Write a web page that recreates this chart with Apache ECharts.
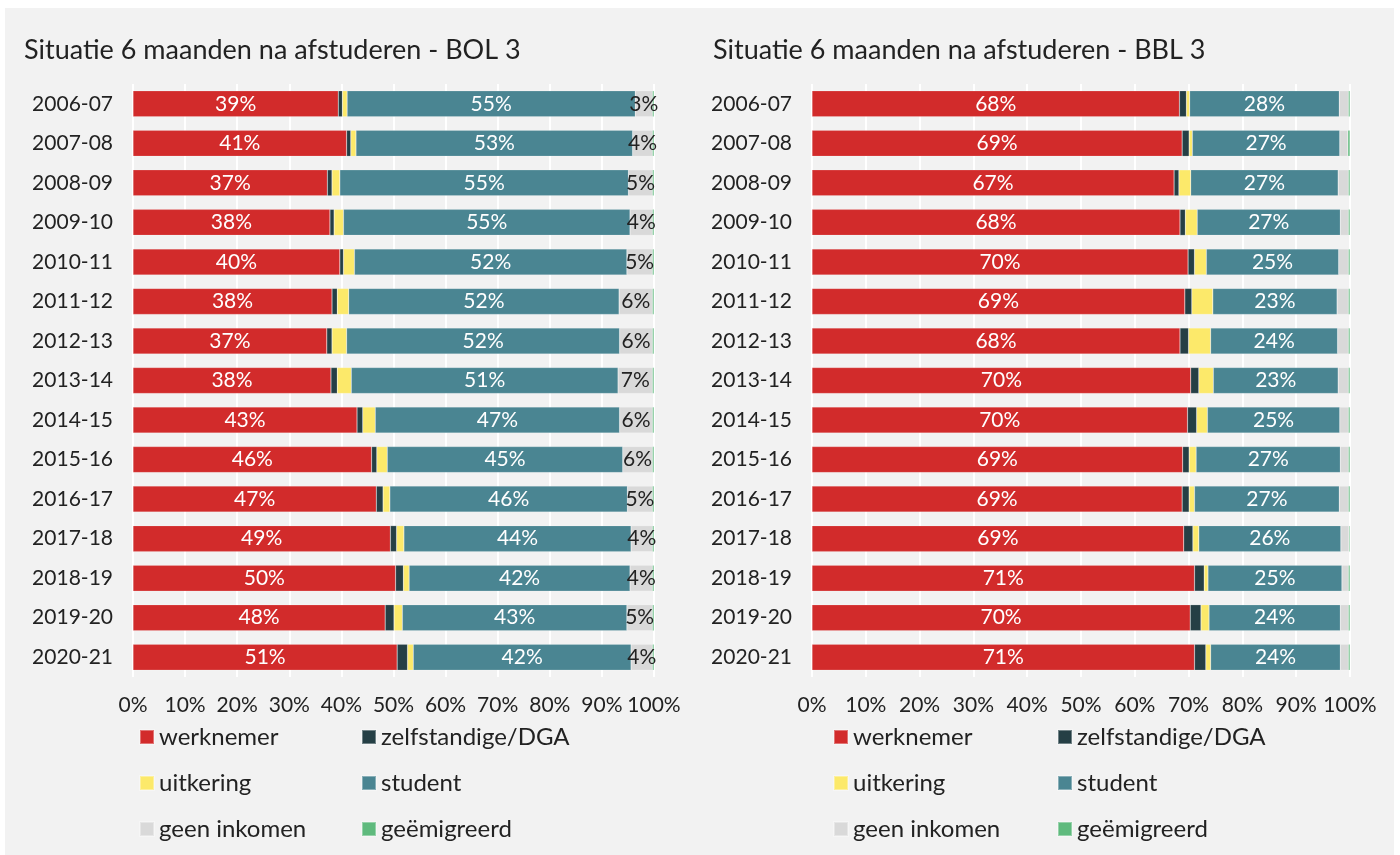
<!DOCTYPE html>
<html>
<head>
<meta charset="utf-8">
<script src="https://cdn.jsdelivr.net/npm/echarts@6/dist/echarts.min.js"></script>
<style>
  html, body { margin: 0; padding: 0; background: #ffffff; }
  #panel { position: absolute; left: 5px; top: 8px; width: 1389px; height: 847px; background: #f2f2f2; }
  #chart { position: absolute; left: 0; top: 0; width: 1400px; height: 855px; }
</style>
</head>
<body>
<div id="panel"></div>
<div id="chart"></div>
<script>
// categories
var years = ['2006-07', '2007-08', '2008-09', '2009-10', '2010-11', '2011-12', '2012-13', '2013-14',
  '2014-15', '2015-16', '2016-17', '2017-18', '2018-19', '2019-20', '2020-21']
var seriesNames = ['werknemer', 'zelfstandige/DGA', 'uitkering', 'student', 'geen inkomen', 'geëmigreerd']
var colors = ['#d22b2b', '#253f45', '#fce96a', '#4a8592', '#d9d9d9', '#5fba7d']

// BOL 3 (percent)
var bolWerknemer = [39.4, 41.0, 37.3, 37.8, 39.7, 38.2, 37.2, 38.0, 43.0, 45.8, 46.7, 49.4, 50.4, 48.4, 50.7]
var bolZelfstandig = [0.8, 0.8, 0.9, 0.8, 0.7, 1.0, 1.0, 1.2, 1.1, 1.0, 1.3, 1.2, 1.5, 1.7, 2.0]
var bolUitkering = [0.9, 1.0, 1.5, 1.8, 2.1, 2.2, 2.8, 2.7, 2.4, 2.0, 1.3, 1.4, 1.1, 1.6, 1.1]
var bolStudent = [55.3, 53.1, 55.4, 55.0, 52.3, 51.9, 52.4, 51.2, 46.9, 45.2, 45.6, 43.6, 42.4, 43.1, 41.8]
var bolGeenInkomen = [3.3, 3.8, 4.6, 4.3, 4.9, 6.4, 6.3, 6.6, 6.3, 5.7, 4.8, 4.1, 4.3, 4.9, 4.1]
var bolGeemigreerd = [0.3, 0.3, 0.3, 0.3, 0.3, 0.3, 0.3, 0.3, 0.3, 0.3, 0.3, 0.3, 0.3, 0.3, 0.3]

// BBL 3 (percent)
var bblWerknemer = [68.3, 68.8, 67.3, 68.4, 69.9, 69.3, 68.4, 70.4, 69.8, 68.9, 68.8, 69.1, 71.1, 70.3, 71.1]
var bblZelfstandig = [1.3, 1.3, 0.9, 1.0, 1.2, 1.3, 1.6, 1.5, 1.7, 1.2, 1.3, 1.7, 1.8, 2.0, 2.1]
var bblUitkering = [0.6, 0.6, 2.2, 2.2, 2.2, 3.9, 4.1, 2.7, 2.0, 1.3, 1.0, 1.1, 0.7, 1.5, 0.9]
var bblStudent = [27.8, 27.4, 27.4, 26.6, 24.6, 23.1, 23.6, 23.2, 24.6, 26.8, 26.9, 26.4, 24.9, 24.4, 24.1]
var bblGeenInkomen = [1.7, 1.5, 1.9, 1.5, 1.8, 2.1, 2.0, 1.9, 1.6, 1.5, 1.7, 1.5, 1.2, 1.5, 1.5]
var bblGeemigreerd = [0.3, 0.4, 0.3, 0.3, 0.3, 0.3, 0.3, 0.3, 0.3, 0.3, 0.3, 0.2, 0.3, 0.3, 0.3]

var xTicks = [0, 10, 20, 30, 40, 50, 60, 70, 80, 90, 100]

var FONT = 'Lato'
var labelled = { 'werknemer': '#ffffff', 'student': '#ffffff', 'geen inkomen': '#222222' }

function makeSeries (idx, lists) {
  return lists.map(function (data, i) {
    var name = seriesNames[i]
    var lab = labelled[name]
    return {
      name: name,
      type: 'bar',
      stack: 'total' + idx,
      xAxisIndex: idx,
      yAxisIndex: idx,
      barWidth: 26,
      itemStyle: { color: colors[i], borderColor: 'rgba(255,255,255,0.35)', borderWidth: 0.5 },
      label: {
        show: !!lab,
        position: 'inside',
        color: lab || '#222',
        fontFamily: FONT,
        fontSize: 21,
        formatter: function (p) {
          return p.value >= 2.5 ? Math.round(p.value) + '%' : ''
        }
      },
      emphasis: { disabled: true },
      data: data
    }
  })
}

function xAxis (idx) {
  return {
    type: 'value',
    gridIndex: idx,
    min: 0,
    max: 100,
    interval: 10,
    axisLine: { show: false },
    axisTick: { show: false },
    splitLine: { show: true, lineStyle: { color: '#ffffff', width: 2 } },
    axisLabel: {
      margin: 18,
      color: '#222',
      fontFamily: FONT,
      fontSize: 21,
      formatter: function (v) { return xTicks.indexOf(v) >= 0 ? v + '%' : '' }
    }
  }
}

function yAxis (idx) {
  return {
    type: 'category',
    gridIndex: idx,
    inverse: true,
    data: years,
    axisLine: { show: false },
    axisTick: { show: false },
    axisLabel: { margin: 20, color: '#222', fontFamily: FONT, fontSize: 21 }
  }
}

function legend (left, names) {
  return {
    left: left,
    top: 725,
    padding: 0,
    orient: 'vertical',
    icon: 'rect',
    itemWidth: 14,
    itemHeight: 14,
    itemGap: 22,
    selectedMode: false,
    textStyle: { color: '#222', fontFamily: FONT, fontSize: 24, lineHeight: 22 },
    data: names
  }
}

var col1 = ['werknemer', 'uitkering', 'geen inkomen']
var col2 = ['zelfstandige/DGA', 'student', 'geëmigreerd']

var chart = echarts.init(document.getElementById('chart'))
chart.setOption({
  backgroundColor: 'transparent',
  animation: false,
  textStyle: { fontFamily: FONT },
  title: [
    { text: 'Situatie 6 maanden na afstuderen - BOL 3', left: 19, top: 32, textStyle: { color: '#222', fontWeight: 'normal', fontFamily: FONT, fontSize: 27 } },
    { text: 'Situatie 6 maanden na afstuderen - BBL 3', left: 708, top: 32, textStyle: { color: '#222', fontWeight: 'normal', fontFamily: FONT, fontSize: 27 } }
  ],
  legend: [legend(139, col1), legend(361, col2), legend(833, col1), legend(1057, col2)],
  grid: [
    { left: 133, width: 521, top: 84, height: 593 },
    { left: 812, width: 538, top: 84, height: 593 }
  ],
  xAxis: [xAxis(0), xAxis(1)],
  yAxis: [yAxis(0), yAxis(1)],
  series: makeSeries(0, [bolWerknemer, bolZelfstandig, bolUitkering, bolStudent, bolGeenInkomen, bolGeemigreerd])
    .concat(makeSeries(1, [bblWerknemer, bblZelfstandig, bblUitkering, bblStudent, bblGeenInkomen, bblGeemigreerd]))
})
</script>
</body>
</html>
